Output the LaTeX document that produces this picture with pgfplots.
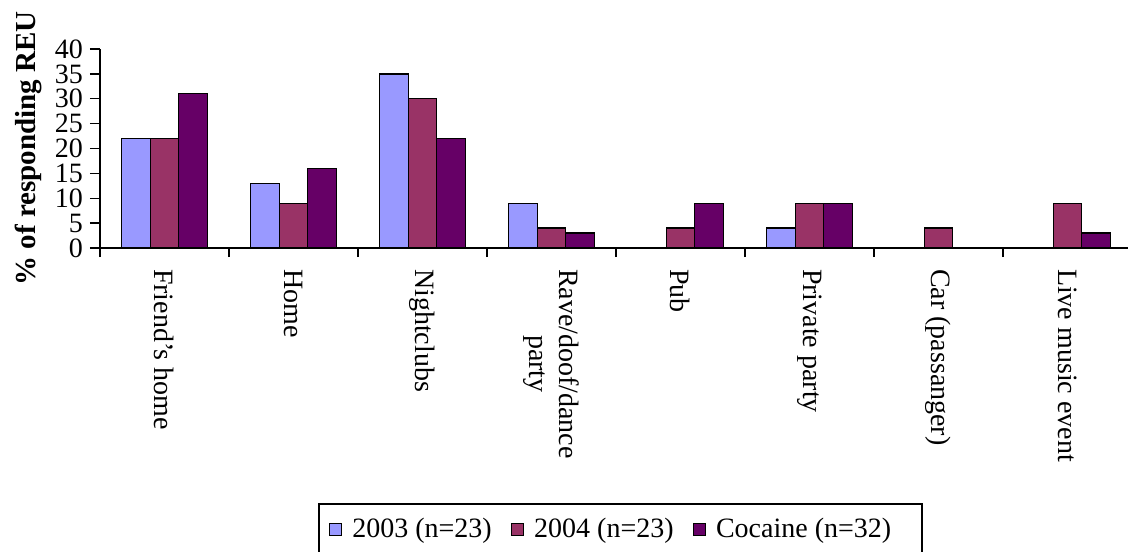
\documentclass[border=0pt]{standalone}
\usepackage{fontspec}
\setmainfont{Liberation Serif}
\usepackage{pgfplots}
\pgfplotsset{compat=1.18}

\definecolor{cA}{HTML}{9999FF}
\definecolor{cB}{HTML}{993366}
\definecolor{cC}{HTML}{660066}

\begin{document}
\begin{tikzpicture}
\begin{axis}[
  at={(0,0)}, anchor=south west,
  scale only axis,
  width=516pt, height=99.5pt,
  xmin=-0.5, xmax=7.5,
  ymin=0, ymax=40,
  axis x line*=bottom,
  axis y line*=left,
  axis line style={line width=0.7pt, -},
  ybar=0pt,
  bar width=14.25pt,
  xtick={0,...,7},
  xticklabels={Friend's home, Home, Nightclubs, {Rave/doof/dance\\party}, Pub, Private party, Car (passanger), Live music event},
  major x tick style={draw=none},
  minor xtick={-0.5,0.5,...,7.5},
  minor tick length=4.5pt,
  minor x tick style={line width=0.7pt, black},
  ytick={0,5,...,40},
  major tick length=5pt,
  ytick style={line width=0.7pt, black},
  tick align=outside,
  xticklabel style={rotate=-90, anchor=west, align=center, font=\fontsize{14}{15}\selectfont},
  xticklabel shift=2pt,
  yticklabel style={font=\fontsize{14}{14}\selectfont},
  /pgf/number format/assume math mode=true,
  ylabel={\% of responding REU},
  ylabel style={at={(axis description cs:-0.0689,0.5)}, anchor=center, font=\bfseries\fontsize{14.5}{16}\selectfont},
  legend columns=3,
  legend style={at={(axis description cs:0.2112,-1.2814)}, anchor=north west,
    draw=black, line width=1pt, inner xsep=5pt, inner ysep=5pt,
    font=\fontsize{14}{15}\selectfont,
    /tikz/every odd column/.append style={column sep=3pt},
    /tikz/every even column/.append style={column sep=7.5pt}},
  legend image code/.code={\draw[#1, line width=0.7pt] (0pt,-3pt) rectangle (6pt,3pt);},
  every axis plot/.append style={draw=black, line width=0.7pt},
]
\addplot[fill=cA] coordinates {(0,22) (1,13) (2,35) (3,9) (4,0) (5,4) (6,0) (7,0)};
\addplot[fill=cB] coordinates {(0,22) (1,9) (2,30) (3,4) (4,4) (5,9) (6,4) (7,9)};
\addplot[fill=cC] coordinates {(0,31) (1,16) (2,22) (3,3) (4,9) (5,9) (6,0) (7,3)};
\addlegendentry{2003 (n=23)\rule[-16pt]{0pt}{1pt}}
\addlegendentry{2004 (n=23)}
\addlegendentry{Cocaine (n=32)\kern8.5pt\mbox{}}
\end{axis}
\pgfresetboundingbox
\path[use as bounding box] (-50pt,-151.5pt) rectangle (514pt,124pt);
\end{tikzpicture}
\end{document}
